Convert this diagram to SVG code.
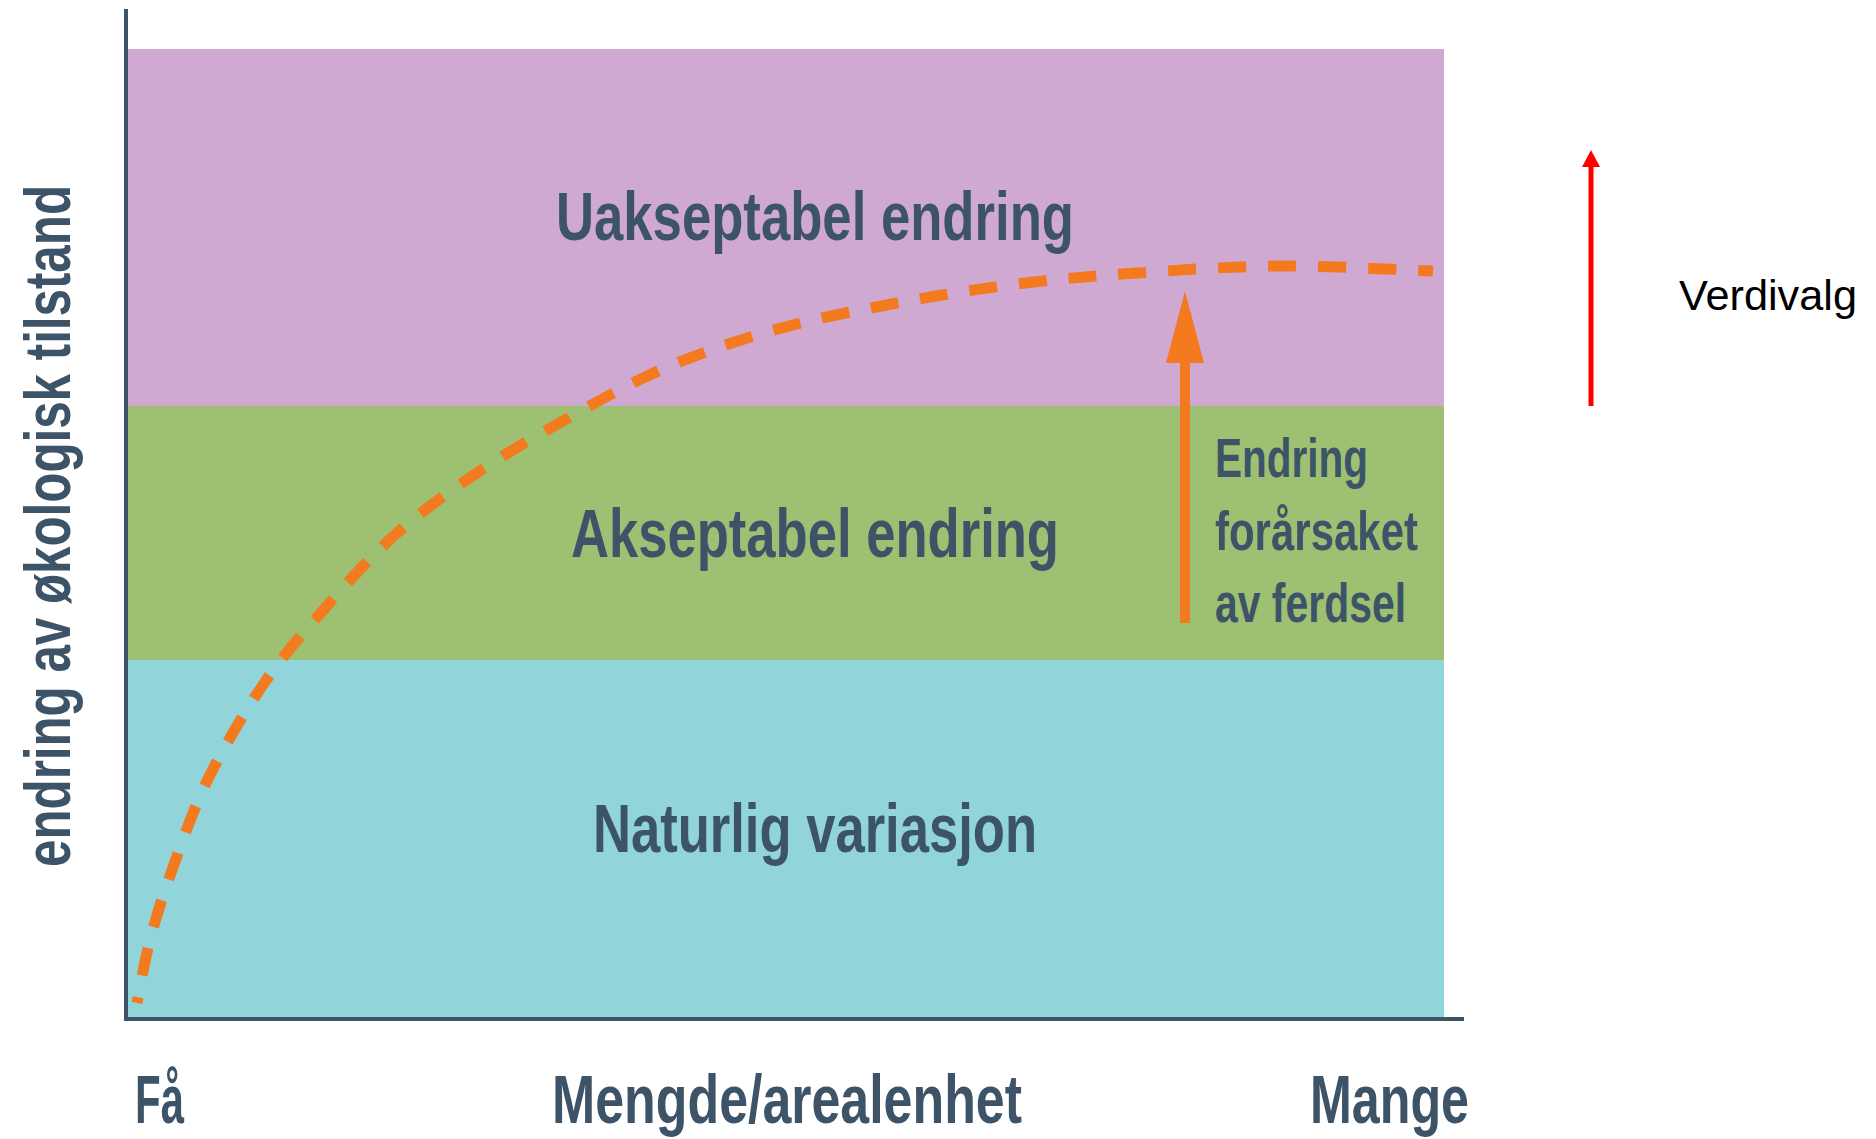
<svg xmlns="http://www.w3.org/2000/svg" width="1876" height="1139" viewBox="0 0 1876 1139">
  <style>
    .band-label { font-family: "Liberation Sans", Arial, sans-serif; font-weight: bold; font-size: 68px; fill: #3D5468; text-anchor: middle; }
    .axis-label { font-family: "Liberation Sans", Arial, sans-serif; font-weight: bold; font-size: 68px; fill: #3D5468; }
    .note { font-family: "Liberation Sans", Arial, sans-serif; font-weight: bold; font-size: 56px; fill: #3D5468; }
    .axis { stroke: #3D5468; stroke-width: 4; fill: none; }
    .curve { fill: none; stroke: #F47A20; stroke-width: 11; stroke-dasharray: 28 22; stroke-dashoffset: 13; }
  </style>
  <rect width="1876" height="1139" fill="#FFFFFF"/>

  <g id="band-uakseptabel">
    <rect x="128" y="49" width="1316" height="357" fill="#D0A9D2"/>
    <text class="band-label" x="815" y="240" textLength="518" lengthAdjust="spacingAndGlyphs">Uakseptabel endring</text>
  </g>
  <g id="band-akseptabel">
    <rect x="128" y="406" width="1316" height="254" fill="#9DC072"/>
    <text class="band-label" x="815" y="557" textLength="488" lengthAdjust="spacingAndGlyphs">Akseptabel endring</text>
  </g>
  <g id="band-naturlig">
    <rect x="128" y="660" width="1316" height="359" fill="#91D5DB"/>
    <text class="band-label" x="815" y="852" textLength="444" lengthAdjust="spacingAndGlyphs">Naturlig variasjon</text>
  </g>

  <g id="axes">
    <line class="axis" x1="126" y1="9" x2="126" y2="1021"/>
    <line class="axis" x1="124" y1="1019" x2="1464" y2="1019"/>
  </g>

  <g id="y-label">
    <text x="70" y="526" transform="rotate(-90 70 526)" text-anchor="middle" font-family="'Liberation Sans', Arial, sans-serif" font-weight="bold" font-size="64" fill="#3D5468" textLength="682" lengthAdjust="spacingAndGlyphs">endring av økologisk tilstand</text>
  </g>

  <g id="x-labels">
    <text class="axis-label" x="135" y="1123" textLength="49" lengthAdjust="spacingAndGlyphs">Få</text>
    <text class="axis-label" x="552" y="1123" textLength="470" lengthAdjust="spacingAndGlyphs">Mengde/arealenhet</text>
    <text class="axis-label" x="1310" y="1123" textLength="159" lengthAdjust="spacingAndGlyphs">Mange</text>
  </g>

  <g id="note-ferdsel">
    <text class="note" x="1215" y="477" textLength="153" lengthAdjust="spacingAndGlyphs">Endring</text>
    <text class="note" x="1215" y="550" textLength="203" lengthAdjust="spacingAndGlyphs">forårsaket</text>
    <text class="note" x="1215" y="622" textLength="191" lengthAdjust="spacingAndGlyphs">av ferdsel</text>
  </g>

  <g id="verdivalg">
    <text x="1679" y="310" font-family="'Liberation Sans', Arial, sans-serif" font-size="42" fill="#000000" textLength="178" lengthAdjust="spacingAndGlyphs">Verdivalg</text>
  </g>

  <g id="connectors">
    <path class="curve" d="M 1433,271 C 1407.5,270.2 1329.3,265.7 1280,266 C 1230.7,266.3 1180.8,270 1137,273 C 1093.2,276 1057,279 1017,284 C 977,289 936.8,295.5 897,303 C 857.2,310.5 816.7,318.2 778,329 C 739.3,339.8 701.2,352.5 665,368 C 628.8,383.5 592.3,404.5 561,422 C 529.7,439.5 504.3,454.5 477,473 C 449.7,491.5 422.2,510.7 397,533 C 371.8,555.3 348,582.2 326,607 C 304,631.8 284.5,653.7 265,682 C 245.5,710.3 224.5,745.7 209,777 C 193.5,808.3 181.8,842.8 172,870 C 162.2,897.2 155.8,917.8 150,940 C 144.2,962.2 139.2,992.5 137,1003"/>
    <g id="arrow-ferdsel">
      <rect x="1180" y="360" width="10" height="263" fill="#F47A20"/>
      <polygon points="1185,291 1204,363 1166,363" fill="#F47A20"/>
    </g>
    <g id="arrow-verdivalg">
      <rect x="1588.5" y="165" width="5" height="241" fill="#FF0000"/>
      <polygon points="1591,150 1600,167 1582,167" fill="#FF0000"/>
    </g>
  </g>
</svg>
